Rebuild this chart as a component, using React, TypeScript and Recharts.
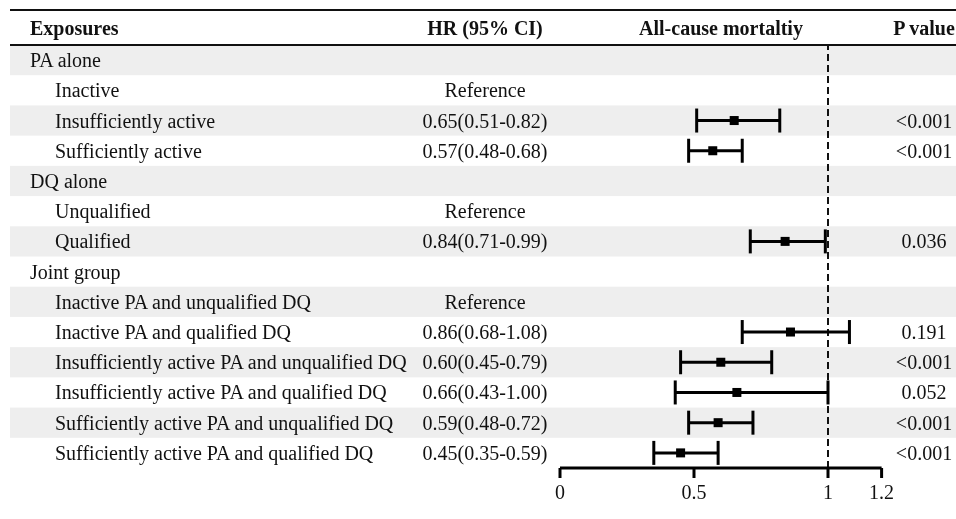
import React from 'react';
import { ComposedChart, Scatter, XAxis, YAxis, ErrorBar, ReferenceLine, Customized } from 'recharts';

const labels = [
  'PA alone',
  'Inactive',
  'Insufficiently active',
  'Sufficiently active',
  'DQ alone',
  'Unqualified',
  'Qualified',
  'Joint group',
  'Inactive PA and unqualified DQ',
  'Inactive PA and qualified DQ',
  'Insufficiently active PA and unqualified DQ',
  'Insufficiently active PA and qualified DQ',
  'Sufficiently active PA and unqualified DQ',
  'Sufficiently active PA and qualified DQ',
];
const isGroup = [true, false, false, false, true, false, false, true, false, false, false, false, false, false];
const hrText = ['', 'Reference', '0.65(0.51-0.82)', '0.57(0.48-0.68)', '', 'Reference', '0.84(0.71-0.99)', '', 'Reference', '0.86(0.68-1.08)', '0.60(0.45-0.79)', '0.66(0.43-1.00)', '0.59(0.48-0.72)', '0.45(0.35-0.59)'];
const hrValues: (number | null)[] = [null, null, 0.65, 0.57, null, null, 0.84, null, null, 0.86, 0.60, 0.66, 0.59, 0.45];
const lowerCI: (number | null)[] = [null, null, 0.51, 0.48, null, null, 0.71, null, null, 0.68, 0.45, 0.43, 0.48, 0.35];
const upperCI: (number | null)[] = [null, null, 0.82, 0.68, null, null, 0.99, null, null, 1.08, 0.79, 1.00, 0.72, 0.59];
const pValues = ['', '', '<0.001', '<0.001', '', '', '0.036', '', '', '0.191', '<0.001', '0.052', '<0.001', '<0.001'];
const headers = ['Exposures', 'HR (95% CI)', 'All-cause mortaltiy', 'P value'];
const xTicks = [0, 0.5, 1, 1.2];

const rowIdx = labels.map((_, i) => i);
const points = rowIdx
  .filter((i) => hrValues[i] !== null)
  .map((i) => ({
    idx: i,
    hr: hrValues[i] as number,
    err: [(hrValues[i] as number) - (lowerCI[i] as number), (upperCI[i] as number) - (hrValues[i] as number)],
  }));

const FONT = "'Liberation Serif', 'Times New Roman', serif";
const FS = 20;
const TXT = '#111';
const ROW_H = 423 / 14;

const RowTick = (props: any) => {
  const { y, payload } = props;
  const i = payload.value as number;
  return (
    <g>
      {i % 2 === 0 && (
        <rect
          x={10}
          y={y - ROW_H / 2}
          width={946}
          height={ROW_H}
          fill="#eeeeee"
          style={{ mixBlendMode: 'multiply' }}
        />
      )}
      <text x={isGroup[i] ? 30 : 55} y={y} dy="0.35em" fontFamily={FONT} fontSize={FS} fill={TXT}>
        {labels[i]}
      </text>
      <text x={485} y={y} dy="0.35em" textAnchor="middle" fontFamily={FONT} fontSize={FS} fill={TXT}>
        {hrText[i]}
      </text>
      <text x={924} y={y} dy="0.35em" textAnchor="middle" fontFamily={FONT} fontSize={FS} fill={TXT}>
        {pValues[i]}
      </text>
    </g>
  );
};

const Header = () => (
  <g>
    <line x1={10} x2={956} y1={10} y2={10} stroke="#111" strokeWidth={2} />
    <line x1={10} x2={956} y1={45} y2={45} stroke="#111" strokeWidth={2} />
    <text x={30} y={28} dy="0.35em" fontFamily={FONT} fontSize={FS} fontWeight="bold" fill={TXT}>{headers[0]}</text>
    <text x={485} y={28} dy="0.35em" textAnchor="middle" fontFamily={FONT} fontSize={FS} fontWeight="bold" fill={TXT}>{headers[1]}</text>
    <text x={721} y={28} dy="0.35em" textAnchor="middle" fontFamily={FONT} fontSize={FS} fontWeight="bold" fill={TXT}>{headers[2]}</text>
    <text x={924} y={28} dy="0.35em" textAnchor="middle" fontFamily={FONT} fontSize={FS} fontWeight="bold" fill={TXT}>{headers[3]}</text>
  </g>
);

const SquareMarker = (props: any) => {
  const { cx, cy } = props;
  return <rect x={cx - 4.5} y={cy - 4.5} width={9} height={9} fill="#000" />;
};

export default function App() {
  return (
    <div style={{ position: 'absolute', left: 0, top: 0, background: '#fff' }}>
      <ComposedChart width={956} height={519} margin={{ top: 45, right: 74.4, left: 0, bottom: 0 }}>
        <YAxis
          type="number"
          dataKey="idx"
          domain={[-0.5, 13.5]}
          reversed
          ticks={rowIdx}
          interval={0}
          width={560}
          axisLine={false}
          tickLine={false}
          tick={<RowTick />}
          allowDataOverflow
        />
        <XAxis
          type="number"
          dataKey="hr"
          domain={[0, 1.2]}
          ticks={xTicks}
          interval={0}
          height={51}
          allowDataOverflow
          axisLine={{ stroke: '#000', strokeWidth: 3 }}
          tickLine={{ stroke: '#000', strokeWidth: 3 }}
          tickSize={10}
          tickMargin={7}
          tick={{ fill: TXT, fontSize: FS, fontFamily: FONT }}
        />
        <Customized component={Header} />
        <ReferenceLine x={1} stroke="#111" strokeWidth={2} strokeDasharray="7 4" />
        <Scatter data={points} dataKey="hr" shape={<SquareMarker />} isAnimationActive={false}>
          <ErrorBar dataKey="err" direction="x" width={12} strokeWidth={3} stroke="#000" />
        </Scatter>
      </ComposedChart>
    </div>
  );
}
